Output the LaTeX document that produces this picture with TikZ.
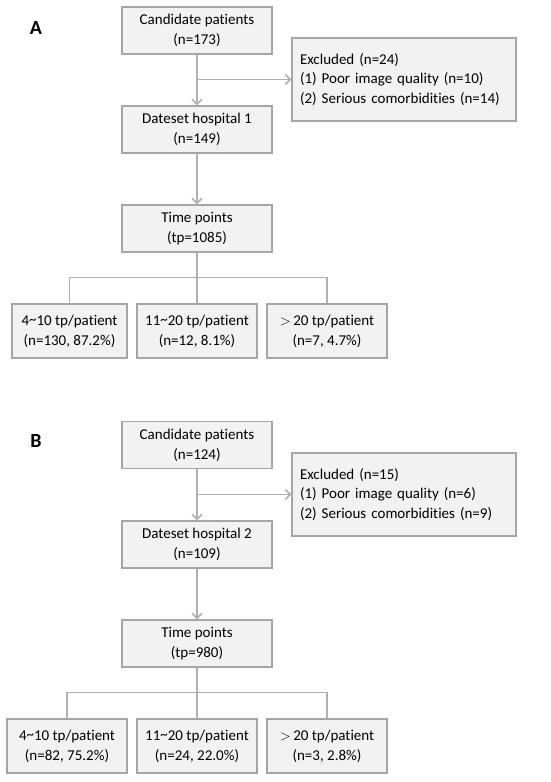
\documentclass[tikz,border=0pt]{standalone}
\usepackage{fontspec}
\setmainfont[Ligatures={NoCommon}]{Carlito}
\usepackage{tikz}
\usetikzlibrary{arrows.meta}
\definecolor{boxfill}{HTML}{F2F2F2}
\definecolor{boxline}{HTML}{A6A6A6}
\definecolor{conn}{HTML}{B0B0B0}
\tikzset{
  box/.style={draw=boxline,fill=boxfill,line width=1.3pt,align=center,inner sep=0pt,
    minimum width=#1,minimum height=47pt,font=\fontsize{15}{20}\selectfont},
  grp/.style={box=#1,minimum height=54pt},
  excl/.style={draw=boxline,fill=boxfill,line width=1.3pt,align=left,inner xsep=8pt,
    text width=208pt,minimum height=83pt,font=\fontsize{15}{19.5}\selectfont},
  panel/.style={font=\fontsize{20}{22}\selectfont\bfseries},
  conn/.style={draw=conn,line width=1.5pt},
  arr/.style={conn,-{Straight Barb[length=5pt,width=10pt]}}
}
\newcommand{\tld}{\raisebox{0.15ex}{\textasciitilde}}

\begin{document}
\begin{tikzpicture}[x=1pt,y=-1pt]
    \useasboundingbox (0,0) rectangle (550,782);

    % panel A
    \node [panel] (labA) at (36,28) {A};
    \node [box=150pt] (candA) at (197,30.5) {Candidate patients\\(n=173)};
    \node [box=150pt] (dataA) at (197,129.5) {Dateset hospital 1\\(n=149)};
    \node [box=150pt] (tpA) at (197,228.5) {Time points\\(tp=1085)};
    \node [excl] (exclA) at (404,79.5) {Excluded (n=24)\\(1) Poor image quality (n=10)\\(2) Serious comorbidities (n=14)};
    \node [grp=115pt] (lowA) at (69.5,331) {4\tld10 tp/patient\\(n=130, 87.2\%)};
    \node [grp=120pt] (midA) at (197,331) {11\tld20 tp/patient\\(n=12, 8.1\%)};
    \node [grp=120pt] (highA) at (327,331) {$>$\,20 tp/patient\\(n=7, 4.7\%)};

    \draw [arr] (candA) -- (dataA);
    \draw [arr] (candA.south |- exclA.west) -- (exclA.west);
    \draw [arr] (dataA) -- (tpA);
    \draw [conn] (tpA) -- (midA);
    \draw [conn] (lowA.north) -- ++(0,-26) -| (highA.north);

    % panel B
    \node [panel] (labB) at (36,441) {B};
    \node [box=150pt] (candB) at (197,445) {Candidate patients\\(n=124)};
    \node [box=150pt] (dataB) at (197,544.5) {Dateset hospital 2\\(n=109)};
    \node [box=150pt] (tpB) at (197,643.5) {Time points\\(tp=980)};
    \node [excl] (exclB) at (404,494.5) {Excluded (n=15)\\(1) Poor image quality (n=6)\\(2) Serious comorbidities (n=9)};
    \node [grp=120pt] (lowB) at (67,746) {4\tld10 tp/patient\\(n=82, 75.2\%)};
    \node [grp=120pt] (midB) at (197,746) {11\tld20 tp/patient\\(n=24, 22.0\%)};
    \node [grp=120pt] (highB) at (327,746) {$>$\,20 tp/patient\\(n=3, 2.8\%)};

    \draw [arr] (candB) -- (dataB);
    \draw [arr] (candB.south |- exclB.west) -- (exclB.west);
    \draw [arr] (dataB) -- (tpB);
    \draw [conn] (tpB) -- (midB);
    \draw [conn] (lowB.north) -- ++(0,-26) -| (highB.north);
  \end{tikzpicture}
\end{document}
